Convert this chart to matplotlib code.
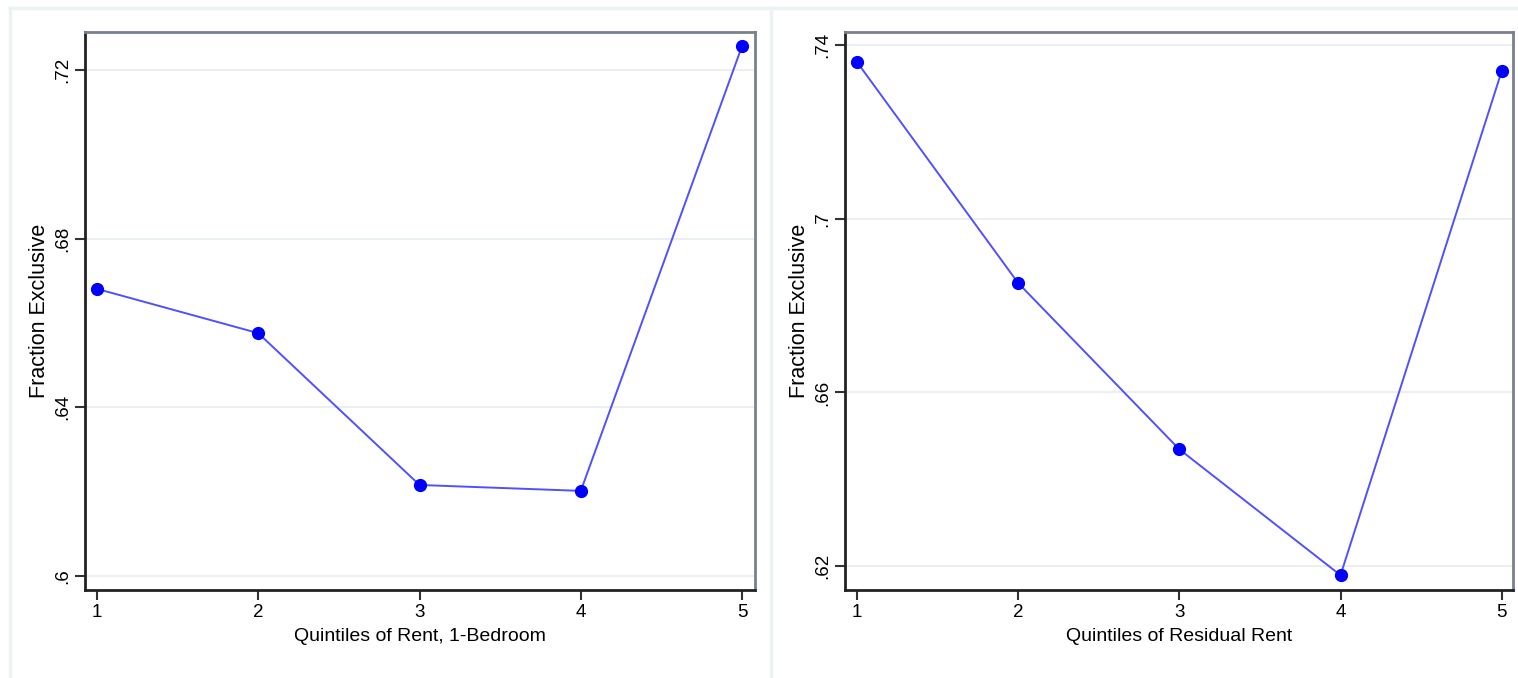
import matplotlib
matplotlib.use("Agg")
import matplotlib.pyplot as plt
from matplotlib.lines import Line2D

plt.rcParams['font.family'] = ['Liberation Sans', 'DejaVu Sans']

quintiles = [1, 2, 3, 4, 5]
left_values = [0.6681, 0.6576, 0.6216, 0.6202, 0.7257]
right_values = [0.7361, 0.6852, 0.6469, 0.6179, 0.7340]
left_yticks = [0.60, 0.64, 0.68, 0.72]
left_yticklabels = [".6", ".64", ".68", ".72"]
right_yticks = [0.62, 0.66, 0.70, 0.74]
right_yticklabels = [".62", ".66", ".7", ".74"]
left_xlabel = "Quintiles of Rent, 1-Bedroom"
right_xlabel = "Quintiles of Residual Rent"
ylabel = "Fraction Exclusive"

W, H = 1518, 678
fig = plt.figure(figsize=(W / 100, H / 100), dpi=100)
fig.patch.set_facecolor("white")

frame_col = "#edf3f4"
# outer frame and divider
fig.add_artist(Line2D([10 / W, 10 / W], [0, 1 - 8 / H], transform=fig.transFigure, color=frame_col, lw=2.5))
fig.add_artist(Line2D([10 / W, 1], [1 - 8 / H, 1 - 8 / H], transform=fig.transFigure, color=frame_col, lw=2.5))
fig.add_artist(Line2D([771 / W, 771 / W], [0, 1 - 8 / H], transform=fig.transFigure, color=frame_col, lw=2.5))


def make_panel(x0, x1, y0, y1, values, yticks, yticklabels, ylim, xlabel, xlim):
    ax = fig.add_axes([x0 / W, 1 - y1 / H, (x1 - x0) / W, (y1 - y0) / H])
    ax.plot(quintiles, values, color="#5050ff", lw=1.4, zorder=3)
    ax.plot(quintiles, values, "o", color="#0000ff", ms=8.5, zorder=4, clip_on=False)
    ax.set_xlim(*xlim)
    ax.set_ylim(*ylim)
    ax.set_xticks(quintiles)
    ax.set_xticklabels([str(q) for q in quintiles], fontsize=13.5)
    ax.set_yticks(yticks)
    ax.set_yticklabels(yticklabels, fontsize=13.5, rotation=90, va="center")
    ax.grid(axis="y", color="#e6eef0", lw=1.2)
    ax.set_axisbelow(True)
    ax.tick_params(axis="both", direction="out", length=7, width=1.5, color="#333333", pad=3)
    for s in ["left", "bottom"]:
        ax.spines[s].set_color("#222222")
        ax.spines[s].set_linewidth(2)
    for s in ["top", "right"]:
        ax.spines[s].set_color("#7a8090")
        ax.spines[s].set_linewidth(2)
    ax.set_xlabel(xlabel, fontsize=14, labelpad=5)
    ax.set_ylabel(ylabel, fontsize=15.5, labelpad=3)
    return ax


make_panel(85, 755, 32, 590, left_values, left_yticks, left_yticklabels,
           (0.5967, 0.729), left_xlabel, (0.926, 5.08))
make_panel(845, 1513, 32, 590, right_values, right_yticks, right_yticklabels,
           (0.6145, 0.743), right_xlabel, (0.926, 5.07))

fig.savefig("out.png", dpi=100)
